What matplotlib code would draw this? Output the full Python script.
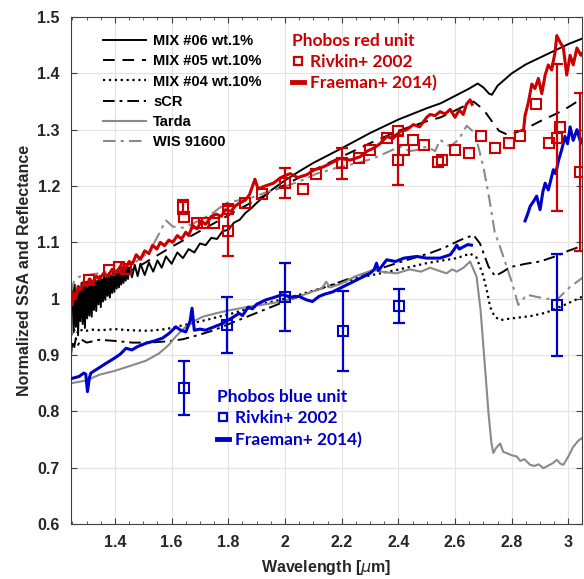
import matplotlib
matplotlib.use('Agg')
import matplotlib.pyplot as plt
from matplotlib.lines import Line2D
import numpy as np

## colours
RED = '#cc0000'
BLUE = '#0000cc'
GRAY = '#8a8a8a'

## MIX #06 wt.1% (black solid), very noisy at the short-wave end
mix06_x = [1.250, 1.254, 1.258, 1.262, 1.266, 1.270, 1.274, 1.278, 1.282, 1.286,
           1.290, 1.294, 1.298, 1.302, 1.306, 1.310, 1.314, 1.318, 1.322, 1.326,
           1.330, 1.334, 1.338, 1.342, 1.346, 1.350, 1.354, 1.358, 1.362, 1.366,
           1.370, 1.374, 1.378, 1.382, 1.386, 1.390, 1.394, 1.398, 1.402, 1.406,
           1.410, 1.414, 1.418, 1.422, 1.426, 1.430, 1.434, 1.438, 1.442, 1.446,
           1.450, 1.460, 1.470, 1.480, 1.490, 1.505, 1.520, 1.535,
           1.550, 1.565, 1.580, 1.600, 1.620, 1.640, 1.660, 1.680, 1.700, 1.720,
           1.740, 1.760, 1.780, 1.800, 1.820, 1.840, 1.860, 1.880, 1.900, 1.95,
           2.00, 2.05, 2.10, 2.20, 2.30, 2.40, 2.50, 2.55, 2.60, 2.65,
           2.68, 2.70, 2.72, 2.73, 2.75, 2.80, 2.85, 2.90, 2.95, 3.00, 3.05]
mix06_y = [1.020, 0.940, 1.025, 0.950, 1.015, 0.935, 1.020, 0.960, 1.028, 0.955,
           1.025, 0.948, 1.030, 0.965, 1.022, 0.970, 1.035, 0.968, 1.030, 0.980,
           1.036, 0.978, 1.032, 0.990, 1.040, 0.985, 1.035, 0.995, 1.042, 0.998,
           1.038, 1.005, 1.045, 1.002, 1.040, 1.010, 1.048, 1.012, 1.044, 1.018,
           1.050, 1.020, 1.048, 1.025, 1.054, 1.028, 1.052, 1.032, 1.058, 1.035,
           1.056, 1.038, 1.060, 1.040, 1.062, 1.042, 1.064, 1.048,
           1.068, 1.055, 1.075, 1.062, 1.082, 1.072, 1.088, 1.082, 1.098, 1.095,
           1.108, 1.106, 1.120, 1.122, 1.135, 1.140, 1.152, 1.160, 1.170, 1.192,
           1.210, 1.226, 1.241, 1.267, 1.294, 1.318, 1.338, 1.347, 1.360, 1.373,
           1.382, 1.375, 1.364, 1.362, 1.378, 1.400, 1.416, 1.428, 1.440, 1.452, 1.462]

## MIX #05 wt.10% (black dashed)
mix05_x = [1.25, 1.30, 1.35, 1.40, 1.50, 1.60, 1.70, 1.80, 1.90, 2.00, 2.10, 2.20,
           2.30, 2.40, 2.50, 2.55, 2.60, 2.665, 2.70, 2.73, 2.755, 2.79, 2.85,
           2.90, 2.96, 3.00, 3.05]
mix05_y = [0.990, 1.005, 1.020, 1.035, 1.062, 1.092, 1.120, 1.148, 1.176, 1.202,
           1.228, 1.252, 1.276, 1.298, 1.315, 1.322, 1.334, 1.350, 1.336, 1.315,
           1.298, 1.290, 1.302, 1.315, 1.329, 1.340, 1.356]

## MIX #04 wt.10% (black dotted)
mix04_x = [1.245, 1.255, 1.265, 1.275, 1.29, 1.32, 1.35, 1.40, 1.45, 1.52, 1.58,
           1.615, 1.67, 1.72, 1.815, 1.875, 1.933, 2.0, 2.05, 2.168, 2.25, 2.394,
           2.50, 2.606, 2.653, 2.676, 2.70, 2.712, 2.724, 2.74, 2.759, 2.80, 2.865,
           2.92, 2.959, 3.0, 3.055]
mix04_y = [0.935, 0.945, 0.938, 0.946, 0.942, 0.945, 0.944, 0.946, 0.944, 0.943,
           0.946, 0.950, 0.956, 0.962, 0.974, 0.983, 0.992, 1.000, 1.007, 1.024,
           1.036, 1.051, 1.063, 1.072, 1.080, 1.073, 1.040, 1.015, 0.985, 0.968,
           0.962, 0.965, 0.969, 0.975, 0.983, 0.992, 1.005]

## sCR (black dash-dot)
scr_x = [1.245, 1.25, 1.255, 1.262, 1.27, 1.28, 1.30, 1.345, 1.40, 1.462, 1.52,
         1.58, 1.64, 1.698, 1.75, 1.792, 1.886, 1.99, 2.11, 2.23, 2.394, 2.512,
         2.56, 2.618, 2.665, 2.688, 2.718, 2.741, 2.77, 2.794, 2.85, 2.90, 2.959,
         3.0, 3.055]
scr_y = [0.900, 0.925, 0.910, 0.930, 0.918, 0.928, 0.922, 0.927, 0.925, 0.922,
         0.922, 0.924, 0.928, 0.936, 0.944, 0.953, 0.972, 0.993, 1.015, 1.036,
         1.063, 1.081, 1.090, 1.104, 1.113, 1.098, 1.057, 1.040, 1.048, 1.056,
         1.062, 1.066, 1.076, 1.085, 1.095]

## Tarda (gray solid)
tarda_x = [1.245, 1.27, 1.30, 1.345, 1.40, 1.462, 1.51, 1.556, 1.59, 1.615, 1.645,
           1.674, 1.71, 1.756, 1.80, 1.874, 1.93, 1.99, 2.05, 2.11, 2.13, 2.145,
           2.16, 2.20, 2.25, 2.312, 2.35, 2.394, 2.44, 2.48, 2.512, 2.54, 2.57,
           2.59, 2.606, 2.63, 2.653, 2.676, 2.69, 2.70, 2.71, 2.718, 2.728, 2.735,
           2.745, 2.759, 2.77, 2.782, 2.80, 2.817, 2.83, 2.845, 2.865, 2.88, 2.895,
           2.912, 2.93, 2.945, 2.959, 2.972, 2.982, 3.0, 3.017, 3.035, 3.055]
tarda_y = [0.850, 0.852, 0.855, 0.865, 0.872, 0.882, 0.890, 0.903, 0.918, 0.933,
           0.948, 0.959, 0.968, 0.974, 0.979, 0.986, 0.990, 0.995, 1.004, 1.015,
           1.018, 1.030, 1.020, 1.027, 1.040, 1.051, 1.047, 1.045, 1.052, 1.048,
           1.055, 1.050, 1.045, 1.052, 1.048, 1.055, 1.066, 1.039, 0.980, 0.915,
           0.850, 0.797, 0.745, 0.726, 0.735, 0.743, 0.728, 0.726, 0.722, 0.720,
           0.712, 0.715, 0.705, 0.703, 0.706, 0.699, 0.704, 0.708, 0.714, 0.707,
           0.705, 0.720, 0.737, 0.748, 0.755]

## WIS 91600 (gray dash-dot)
wis_x = [1.245, 1.255, 1.274, 1.30, 1.345, 1.40, 1.462, 1.49, 1.52, 1.55, 1.58,
         1.604, 1.64, 1.67, 1.698, 1.74, 1.792, 1.84, 1.886, 1.94, 1.994, 2.05,
         2.112, 2.194, 2.25, 2.312, 2.37, 2.406, 2.44, 2.465, 2.50, 2.53, 2.547,
         2.583, 2.612, 2.641, 2.67, 2.70, 2.72, 2.74, 2.76, 2.78, 2.80, 2.823,
         2.853, 2.89, 2.923, 2.959, 3.006, 3.055]
wis_y = [1.010, 1.030, 1.039, 1.042, 1.045, 1.050, 1.060, 1.072, 1.082, 1.110,
         1.139, 1.128, 1.126, 1.132, 1.139, 1.150, 1.170, 1.175, 1.180, 1.190,
         1.198, 1.208, 1.222, 1.234, 1.240, 1.249, 1.262, 1.270, 1.262, 1.264,
         1.270, 1.262, 1.282, 1.270, 1.282, 1.307, 1.294, 1.234, 1.180, 1.118,
         1.090, 1.060, 1.030, 0.989, 1.007, 1.003, 1.000, 0.998, 1.021, 1.039]

## Phobos red unit, Fraeman+ 2014 (two spectral segments)
red_fr1_x = [1.25, 1.255, 1.262, 1.27, 1.28, 1.29, 1.30, 1.31, 1.32, 1.335, 1.345,
             1.36, 1.375, 1.39, 1.405, 1.42, 1.435, 1.45, 1.462, 1.475, 1.49, 1.505,
             1.52, 1.533, 1.548, 1.56, 1.575, 1.59, 1.604, 1.62, 1.635, 1.65, 1.66,
             1.674, 1.69, 1.705, 1.72, 1.74, 1.757, 1.775, 1.79, 1.81, 1.825, 1.841,
             1.86, 1.875, 1.894, 1.905, 1.93, 1.959, 1.985, 2.018, 2.045, 2.077,
             2.10, 2.135, 2.16, 2.194, 2.23, 2.265, 2.29, 2.312, 2.335, 2.359, 2.38,
             2.406, 2.43, 2.453, 2.475, 2.50, 2.512, 2.53, 2.547, 2.565, 2.583,
             2.60, 2.615, 2.629, 2.64, 2.653, 2.66]
red_fr1_y = [0.990, 1.010, 1.000, 1.022, 1.015, 1.030, 1.022, 1.035, 1.028, 1.040,
             1.035, 1.045, 1.040, 1.052, 1.046, 1.058, 1.052, 1.066, 1.062, 1.078,
             1.070, 1.085, 1.080, 1.095, 1.088, 1.100, 1.094, 1.104, 1.100, 1.112,
             1.106, 1.118, 1.112, 1.130, 1.124, 1.138, 1.132, 1.146, 1.150, 1.146,
             1.158, 1.155, 1.165, 1.170, 1.175, 1.185, 1.212, 1.195, 1.200, 1.205,
             1.215, 1.222, 1.215, 1.220, 1.228, 1.234, 1.240, 1.249, 1.246, 1.252,
             1.262, 1.267, 1.275, 1.288, 1.284, 1.297, 1.300, 1.309, 1.305, 1.322,
             1.327, 1.325, 1.332, 1.328, 1.336, 1.322, 1.335, 1.327, 1.345, 1.353,
             1.345]
red_fr2_x = [2.842, 2.847, 2.859, 2.871, 2.882, 2.894, 2.906, 2.918, 2.929, 2.941,
             2.953, 2.959, 2.971, 2.982, 2.994, 3.006, 3.017, 3.03, 3.044, 3.055]
red_fr2_y = [1.300, 1.325, 1.349, 1.381, 1.373, 1.391, 1.364, 1.397, 1.415, 1.406,
             1.438, 1.467, 1.455, 1.446, 1.397, 1.432, 1.415, 1.445, 1.432, 1.440]

## Phobos red unit, Rivkin+ 2002 (err 0 = no error bar)
red_riv_x = [1.31, 1.38, 1.415, 1.44, 1.64, 1.645, 1.69, 1.715, 1.75, 1.80, 1.80,
             1.86, 1.92, 2.0, 2.065, 2.11, 2.2, 2.26, 2.30, 2.36, 2.40, 2.40, 2.42,
             2.45, 2.49, 2.54, 2.555, 2.60, 2.65, 2.69, 2.74, 2.79, 2.83, 2.885,
             2.93, 2.96, 2.97, 3.04]
red_riv_y = [1.033, 1.051, 1.057, 1.053, 1.163, 1.145, 1.134, 1.134, 1.135, 1.160,
             1.120, 1.170, 1.185, 1.205, 1.195, 1.222, 1.240, 1.249, 1.264, 1.285,
             1.297, 1.246, 1.264, 1.282, 1.273, 1.243, 1.246, 1.264, 1.258, 1.288,
             1.267, 1.276, 1.288, 1.346, 1.276, 1.286, 1.305, 1.225]
red_riv_err = [0, 0, 0, 0, 0.013, 0, 0, 0, 0, 0, 0.045,
               0, 0, 0.027, 0, 0, 0.028, 0, 0, 0, 0, 0.045, 0,
               0, 0, 0, 0, 0, 0, 0, 0, 0, 0, 0,
               0, 0.13, 0, 0.14]

## Phobos blue unit, Fraeman+ 2014
blue_fr1_x = [1.245, 1.26, 1.274, 1.29, 1.297, 1.303, 1.31, 1.315, 1.34, 1.368, 1.40,
              1.42, 1.439, 1.46, 1.48, 1.51, 1.54, 1.568, 1.59, 1.615, 1.632, 1.65,
              1.665, 1.672, 1.68, 1.70, 1.72, 1.75, 1.78, 1.81, 1.838, 1.85, 1.87,
              1.885, 1.90, 1.933, 1.96, 1.99, 2.02, 2.05, 2.075, 2.097, 2.12, 2.14,
              2.168, 2.20, 2.24, 2.276, 2.30, 2.315, 2.323, 2.33, 2.359, 2.39, 2.42,
              2.465, 2.50, 2.547, 2.583, 2.595, 2.606, 2.615, 2.629, 2.645, 2.658]
blue_fr1_y = [0.858, 0.860, 0.862, 0.868, 0.866, 0.835, 0.860, 0.868, 0.876, 0.885,
              0.895, 0.902, 0.912, 0.909, 0.915, 0.921, 0.925, 0.930, 0.938, 0.950,
              0.944, 0.941, 0.960, 0.983, 0.944, 0.946, 0.944, 0.950, 0.956, 0.965,
              0.974, 0.970, 0.985, 0.982, 0.990, 0.998, 1.002, 1.007, 1.003, 1.004,
              0.998, 0.995, 1.004, 1.008, 1.012, 1.020, 1.030, 1.039, 1.045, 1.052,
              1.063, 1.050, 1.069, 1.066, 1.072, 1.075, 1.072, 1.072, 1.078, 1.086,
              1.095, 1.088, 1.092, 1.096, 1.095]
blue_fr2_x = [2.847, 2.856, 2.865, 2.876, 2.888, 2.9, 2.91, 2.918, 2.929, 2.94,
              2.947, 2.955, 2.965, 2.976, 2.988, 2.997, 3.006, 3.017, 3.03, 3.044,
              3.055]
blue_fr2_y = [1.138, 1.150, 1.164, 1.172, 1.182, 1.158, 1.190, 1.205, 1.193, 1.215,
              1.229, 1.222, 1.245, 1.264, 1.288, 1.275, 1.305, 1.281, 1.300, 1.276,
              1.290]

## Phobos blue unit, Rivkin+ 2002
blue_riv_x = [1.645, 1.795, 2.0, 2.204, 2.404, 2.959]
blue_riv_y = [0.842, 0.953, 1.003, 0.943, 0.987, 0.989]
blue_riv_err = [0.048, 0.05, 0.06, 0.071, 0.03, 0.09]

x_ticks = [1.4, 1.6, 1.8, 2.0, 2.2, 2.4, 2.6, 2.8, 3.0]
x_ticklabels = ['1.4', '1.6', '1.8', '2', '2.2', '2.4', '2.6', '2.8', '3']
y_ticks = [0.6, 0.7, 0.8, 0.9, 1.0, 1.1, 1.2, 1.3, 1.4, 1.5]
y_ticklabels = ['0.6', '0.7', '0.8', '0.9', '1', '1.1', '1.2', '1.3', '1.4', '1.5']


def riv_points(ax, x, y, err, color):
    """squares, with error bars only where an error is given"""
    ax.plot(x, y, 's', color=color, ms=6.5, mfc='none', mew=1.5, zorder=5)
    ex = [x[i] for i in range(len(x)) if err[i] > 0]
    ey = [y[i] for i in range(len(x)) if err[i] > 0]
    ee = [err[i] for i in range(len(x)) if err[i] > 0]
    ax.errorbar(ex, ey, yerr=ee, fmt='none', ecolor=color, elinewidth=1.6,
                capsize=4, capthick=1.6, zorder=5)


def main():
    plt.rcParams['font.family'] = ['Liberation Sans', 'DejaVu Sans']
    fig = plt.figure(figsize=(5.84, 5.79), dpi=100)
    ax = fig.add_axes([0.1216, 0.095, 0.875, 0.8756])

    ## model curves
    l1, = ax.plot(mix06_x, mix06_y, '-', color='k', lw=1.4, label='MIX #06 wt.1%')
    l2, = ax.plot(mix05_x, mix05_y, '--', color='k', lw=1.4, dashes=(6, 4),
                  label='MIX #05 wt.10%')
    l3, = ax.plot(mix04_x, mix04_y, ':', color='k', lw=1.6, label='MIX #04 wt.10%')
    l4, = ax.plot(scr_x, scr_y, '-.', color='k', lw=1.4, dashes=(6, 2.5, 1.5, 2.5),
                  label='sCR')
    l5, = ax.plot(tarda_x, tarda_y, '-', color=GRAY, lw=1.5, label='Tarda')
    l6, = ax.plot(wis_x, wis_y, '-.', color=GRAY, lw=1.5, dashes=(6, 2.5, 1.5, 2.5),
                  label='WIS 91600')

    ## Phobos spectra
    ax.plot(red_fr1_x, red_fr1_y, '-', color=RED, lw=2.2, zorder=4)
    ax.plot(red_fr2_x, red_fr2_y, '-', color=RED, lw=2.2, zorder=4)
    ax.plot(blue_fr1_x, blue_fr1_y, '-', color=BLUE, lw=2.2, zorder=4)
    ax.plot(blue_fr2_x, blue_fr2_y, '-', color=BLUE, lw=2.2, zorder=4)
    riv_points(ax, red_riv_x, red_riv_y, red_riv_err, RED)
    riv_points(ax, blue_riv_x, blue_riv_y, blue_riv_err, BLUE)

    ## axes
    ax.set_xlim(1.245, 3.048)
    ax.set_ylim(0.6, 1.5)
    ax.set_xticks(x_ticks)
    ax.set_xticklabels(x_ticklabels)
    ax.set_xticks(np.arange(1.25, 3.05, 0.05), minor=True)
    ax.set_yticks(y_ticks)
    ax.set_yticklabels(y_ticklabels)
    ax.tick_params(which='both', direction='in', top=True, right=True,
                   labelsize=11.5, labelcolor='#262626', color='#404040', pad=8)
    ax.tick_params(which='major', length=4)
    ax.tick_params(which='minor', length=2.5)
    for t in ax.get_xticklabels() + ax.get_yticklabels():
        t.set_fontweight('bold')
    for s in ax.spines.values():
        s.set_color('#404040')
        s.set_linewidth(0.8)
    ax.grid(True, color='#e3e3e3', lw=0.8)
    ax.set_axisbelow(True)
    ax.set_xlabel('Wavelength [$\\mu$m]', fontsize=11.5, fontweight='bold',
                  color='#262626', labelpad=6)
    ax.set_ylabel('Normalized SSA and Reflectance', fontsize=11.5,
                  fontweight='bold', color='#262626', labelpad=4)

    ## legends
    leg1 = ax.legend(handles=[l1, l2, l3, l4, l5, l6], loc='upper left',
                     bbox_to_anchor=(0.062, 0.966), frameon=False, borderpad=0,
                     borderaxespad=0, handlelength=3.0, handletextpad=0.45,
                     labelspacing=0.42, prop={'weight': 'bold', 'size': 10.5})
    ax.add_artist(leg1)

    red_h = [Line2D([], [], color=RED, marker='s', ms=6, mfc='none', mew=1.6, ls='none'),
             Line2D([], [], color=RED, lw=3.5)]
    leg2 = ax.legend(handles=red_h, labels=['Rivkin+ 2002', 'Fraeman+ 2014)'],
                     title='Phobos red unit', loc='upper left',
                     bbox_to_anchor=(0.432, 0.969), frameon=False, borderpad=0,
                     borderaxespad=0, handlelength=0.7, handletextpad=0.35,
                     labelspacing=0.3, alignment='left', labelcolor=RED,
                     prop={'family': 'Lato', 'weight': 'bold', 'size': 12.5},
                     title_fontproperties={'family': 'Lato', 'weight': 'bold', 'size': 12.5})
    leg2.get_title().set_color(RED)
    ax.add_artist(leg2)

    blue_h = [Line2D([], [], color=BLUE, marker='s', ms=6, mfc='none', mew=1.6, ls='none'),
              Line2D([], [], color=BLUE, lw=3.5)]
    leg3 = ax.legend(handles=blue_h, labels=['Rivkin+ 2002', 'Fraeman+ 2014)'],
                     title='Phobos blue unit', loc='upper left',
                     bbox_to_anchor=(0.286, 0.266), frameon=False, borderpad=0,
                     borderaxespad=0, handlelength=0.7, handletextpad=0.35,
                     labelspacing=0.3, alignment='left', labelcolor=BLUE,
                     prop={'family': 'Lato', 'weight': 'bold', 'size': 12.5},
                     title_fontproperties={'family': 'Lato', 'weight': 'bold', 'size': 12.5})
    leg3.get_title().set_color(BLUE)

    fig.savefig('out.png', dpi=100)


if __name__ == '__main__':
    main()
